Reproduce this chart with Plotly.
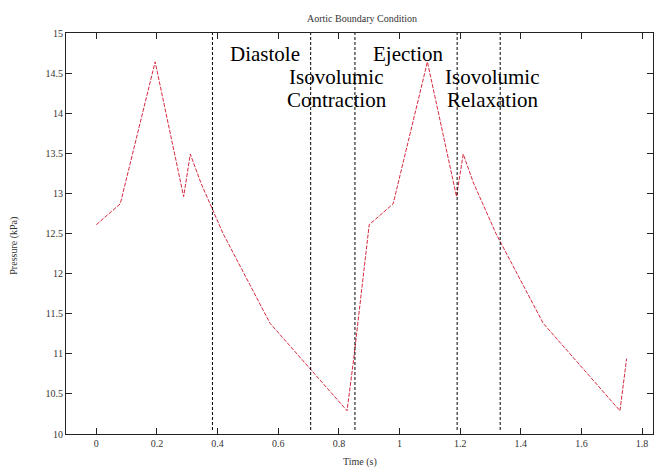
import plotly.graph_objects as go

# ---- data ----
time_s = [0.0, 0.079, 0.194, 0.288, 0.310, 0.345, 0.418, 0.573, 0.827, 0.849,
          0.900, 0.979, 1.092, 1.188, 1.210, 1.244, 1.318, 1.474, 1.727, 1.749]
pressure_kpa = [12.61, 12.87, 14.64, 12.96, 13.49, 13.13, 12.50, 11.38, 10.29, 10.94,
                12.61, 12.87, 14.64, 12.96, 13.49, 13.13, 12.50, 11.38, 10.29, 10.94]

phase_boundaries = [0.383, 0.707, 0.853, 1.190, 1.332]

phase_labels = ["Diastole", "Isovolumic", "Contraction", "Ejection", "Isovolumic", "Relaxation"]
phase_label_t = [0.555, 0.793, 0.793, 1.027, 1.305, 1.305]
phase_label_p = [14.74, 14.45, 14.16, 14.74, 14.45, 14.16]

x_ticks = [0, 0.2, 0.4, 0.6, 0.8, 1, 1.2, 1.4, 1.6, 1.8]
y_ticks = [10, 10.5, 11, 11.5, 12, 12.5, 13, 13.5, 14, 14.5, 15]

SERIF = "Liberation Serif, Times New Roman, serif"

fig = go.Figure()
fig.add_trace(go.Scatter(
    x=time_s, y=pressure_kpa, mode="lines",
    line=dict(color="#d8283f", width=1, dash="4px,1.5px"),
    showlegend=False, hoverinfo="x+y",
))

for t in phase_boundaries:
    fig.add_shape(type="line", xref="x", yref="paper", x0=t, x1=t, y0=0.01, y1=1,
                  line=dict(color="black", width=1, dash="3px,2px"))

for lab, t, p in zip(phase_labels, phase_label_t, phase_label_p):
    fig.add_annotation(x=t, y=p, xref="x", yref="y", text=lab, showarrow=False,
                       font=dict(family=SERIF, size=21, color="black"),
                       xanchor="center", yanchor="middle")

# axis titles and chart title
fig.add_annotation(x=0.5, y=-0.07, xref="paper", yref="paper", text="Time (s)",
                   showarrow=False, font=dict(family=SERIF, size=10, color="#333"),
                   xanchor="center", yanchor="middle")
fig.add_annotation(x=-0.09, y=0.47, xref="paper", yref="paper", text="Pressure (kPa)",
                   textangle=-90, showarrow=False,
                   font=dict(family=SERIF, size=10, color="#333"),
                   xanchor="center", yanchor="middle")
fig.add_annotation(x=0.505, y=1.0 + 15 / 401, xref="paper", yref="paper",
                   text="Aortic Boundary Condition", showarrow=False,
                   font=dict(family=SERIF, size=10, color="#333"),
                   xanchor="center", yanchor="middle")

axis_common = dict(
    showgrid=False, zeroline=False, showline=True, linecolor="#222", linewidth=1,
    mirror="ticks", ticks="inside", ticklen=6, tickcolor="#222",
    tickfont=dict(family=SERIF, size=10, color="#333"),
)

fig.update_layout(
    width=654, height=469,
    margin=dict(l=66, r=1, t=33, b=35),
    paper_bgcolor="white", plot_bgcolor="white",
    xaxis=dict(range=[-0.1, 1.836], tickvals=x_ticks,
               ticktext=[f"{v:g}" for v in x_ticks], **axis_common),
    yaxis=dict(range=[10, 15], tickvals=y_ticks,
               ticktext=[f"{v:g}" for v in y_ticks], **axis_common),
)

fig.write_html(
    "out.html",
    config={"displayModeBar": False},
    post_script="document.body.style.margin='0';document.body.style.overflow='hidden';",
)
